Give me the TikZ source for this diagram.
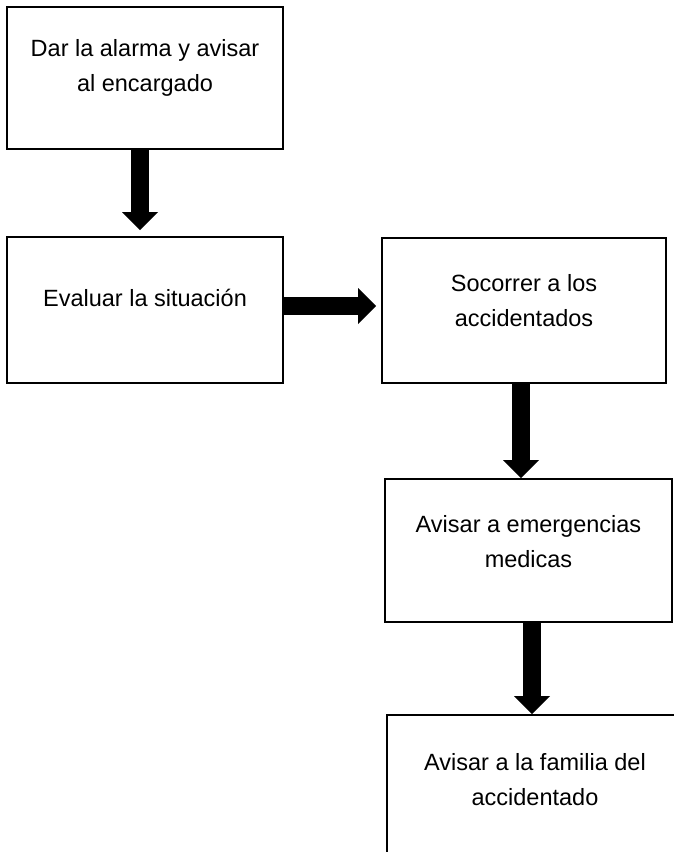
\documentclass[tikz,border=0pt]{standalone}
\usepackage{fontspec}
\setmainfont{Liberation Sans}
\usetikzlibrary{arrows.meta, positioning}
\tikzset{
  box/.style   = {draw=black, line width=1.6pt, fill=white, inner sep=0pt},
  txt/.style   = {align=center, inner sep=0pt, font=\fontsize{23.5}{35}\selectfont},
  arrow/.style = {line width=18pt, color=black,
                  -{Triangle[width=36pt, length=18pt, line width=0pt]}},
}

\begin{document}
\begin{tikzpicture}[x=1pt, y=-1pt]
  \useasboundingbox (0,0) rectangle (674,852);
  \clip (0,0) rectangle (674,852);
  % steps
  \foreach \n/\x/\y/\w/\h/\dy/\t in {
      1/145/78/276/142/10.5/{Dar la alarma y avisar\\al encargado},
      2/145/310/276/146/12/{Evaluar la situación},
      3/524/310.5/284/145/10/{Socorrer a los\\accidentados},
      4/528.5/550.5/287/143/9/{Avisar a emergencias\\medicas},
      5/535/786.5/296/143/6.5/{Avisar a la familia del\\accidentado}} {
    \node[box, minimum width=\w pt, minimum height=\h pt] (b\n) at (\x,\y) {};
    \node[txt] (t\n) at ([yshift=\dy pt]b\n.center) {\t};
  }
  % flow
  \coordinate (a1) at ([xshift=-5pt]b1.south);
  \coordinate (a2) at ([yshift=4pt]b2.east);
  \coordinate (a3) at ([xshift=-3pt]b3.south);
  \coordinate (a4) at ([xshift=3.5pt]b4.south);
  \draw[arrow] (a1) -- ([yshift=6pt]a1 |- b2.north);
  \draw[arrow] (a2) -- ([xshift=-5pt]a2 -| b3.west);
  \draw[arrow] (a3) -- (a3 |- b4.north);
  \draw[arrow] (a4) -- (a4 |- b5.north);
\end{tikzpicture}
\end{document}
